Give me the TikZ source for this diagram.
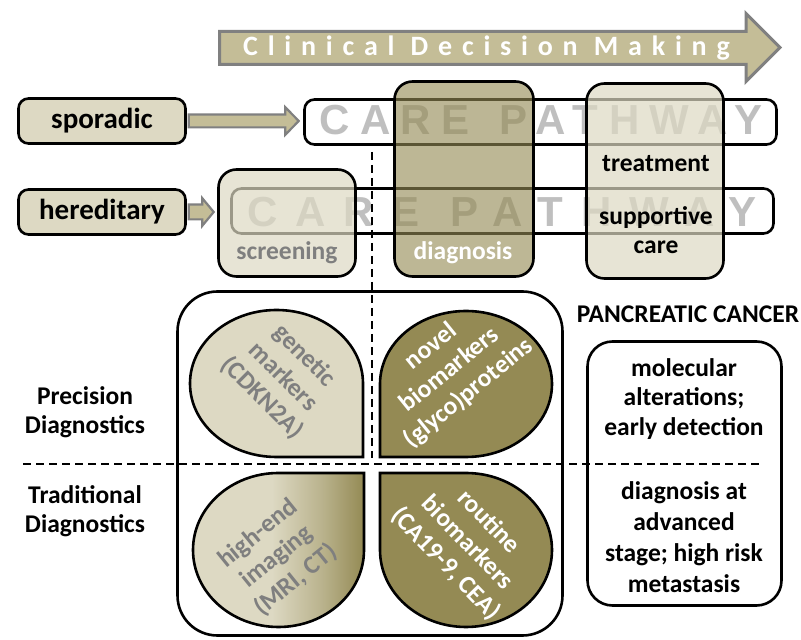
\documentclass[tikz,border=0pt]{standalone}
\usepackage{fontspec}
\setmainfont{Carlito}
\newfontfamily\careA[LetterSpace=25]{Liberation Sans}
\newfontfamily\careB[LetterSpace=42]{Liberation Sans}
\newfontfamily\clin[LetterSpace=35]{Carlito}
\usetikzlibrary{calc}
\definecolor{tanlight}{HTML}{DDD9C3}
\definecolor{tandark}{HTML}{948A54}
\definecolor{arrowfill}{HTML}{C4BD97}
\definecolor{arrowedge}{HTML}{808080}
\definecolor{graytext}{HTML}{7F7F7F}
\definecolor{caregray}{HTML}{BFBFBF}
\colorlet{tanmid}{tanlight!50!tandark}
\pgfdeclarehorizontalshading{leafgrad}{100bp}{color(0bp)=(tanlight); color(48bp)=(tanlight); color(63bp)=(tanmid); color(75bp)=(tandark); color(100bp)=(tandark)}
\tikzset{
  outline/.style={draw=black, line width=2.6pt},
  lbl/.style={font=\bfseries\fontsize{29}{32}\selectfont},
  txt/.style={font=\bfseries\fontsize{25.5}{29.5}\selectfont, align=center, inner sep=0pt},
  leaftxt/.style={font=\bfseries\fontsize{25.5}{30}\selectfont, align=center, inner sep=0pt},
  blockarrow/.style={fill=arrowfill, draw=arrowedge, line width=2.2pt, line join=miter},
  divider/.style={line width=1.8pt, dash pattern=on 8pt off 5pt},
  stagebox/.style={outline, rounded corners=18pt, minimum width=137pt, inner sep=0pt},
}
\begin{document}
\begin{tikzpicture}[x=1pt,y=1pt]
\useasboundingbox (0,0) rectangle (801,640);

% top arrow
\draw[blockarrow, line width=3pt] (219.5,575.5) -- (746,575.5) -- (746,558.5) -- (780,592.5) -- (746,626.5) -- (746,608.5) -- (219.5,608.5) -- cycle;
\node[anchor=base west, inner sep=0pt, text=white, font=\clin\bfseries\fontsize{28}{28}\selectfont] (cdm) at (243,584) {Clinical Decision Making};

% left entry boxes
\node[outline, fill=tanlight, rounded corners=10pt, minimum width=167pt, minimum height=45pt, lbl] (spor) at (102,519) {sporadic};
\node[outline, fill=tanlight, rounded corners=10pt, minimum width=167pt, minimum height=45pt, lbl] (her) at (102,428) {hereditary};

% care pathway bars
\node[outline, fill=white, rounded corners=10pt, minimum width=472pt, minimum height=45pt] (care1) at (540.5,518) {};
\node[outline, fill=white, rounded corners=10pt, minimum width=542pt, minimum height=45pt] (care2) at (502.5,429) {};
\node[anchor=base west, inner sep=0pt, text=caregray, font=\careA\bfseries\fontsize{42}{42}\selectfont] (careT1) at (319,505) {CARE \hspace{8pt}PATHWAY};
\node[anchor=base west, inner sep=0pt, text=caregray, font=\careB\bfseries\fontsize{42}{42}\selectfont] (careT2) at (247,413) {CARE \hspace{2pt}PATHWAY};

% stage boxes (semi-transparent)
\node[stagebox, fill=tanlight, fill opacity=0.7, minimum height=107pt] (scr) at (287,417) {};
\node[stagebox, fill=tandark, fill opacity=0.62, minimum width=139pt, minimum height=195pt] (diag) at (464,461) {};
\node[stagebox, fill=tanlight, fill opacity=0.7, minimum height=195pt] (treat) at (655,459) {};
\node[txt, text=graytext] (scrT) at (287,387) {screening};
\node[txt, text=white] (diagT) at (463,387) {diagnosis};
\node[txt] (treatT1) at (656,476) {treatment};
\node[txt] (treatT2) at (656,410) {supportive\\care};

% small block arrows
\coordinate (a1s) at (spor.east);
\coordinate (a1e) at (care1.west |- spor.east);
\draw[blockarrow] ($(a1s)+(2,6.4)$) -- ($(a1e)+(-18,6.4)$) -- ($(a1e)+(-18,13.9)$) -- ($(a1e)+(-4.5,0)$) -- ($(a1e)+(-18,-13.9)$) -- ($(a1e)+(-18,-6.4)$) -- ($(a1s)+(2,-6.4)$) -- cycle;
\coordinate (a2s) at (her.east);
\coordinate (a2e) at (scr.west |- her.east);
\draw[blockarrow] ($(a2s)+(2,7.4)$) -- ($(a2e)+(-15,7.4)$) -- ($(a2e)+(-15,13.9)$) -- ($(a2e)+(-3.5,0)$) -- ($(a2e)+(-15,-13.9)$) -- ($(a2e)+(-15,-7.4)$) -- ($(a2s)+(2,-7.4)$) -- cycle;

% big container and leaves
\node[outline, rounded corners=40pt, minimum width=385pt, minimum height=344pt] (big) at (370,176.5) {};
\draw[outline, fill=tanlight] (363,183) -- (363,256.5) arc[start angle=0, end angle=270, x radius=86.5pt, y radius=73.5pt] -- cycle;
\draw[outline, fill=tandark] (380,183) -- (466,183) arc[start angle=-90, end angle=180, x radius=86pt, y radius=73pt] -- cycle;
\draw[outline, shading=leafgrad] (364,167) -- (278.5,167) arc[start angle=90, end angle=360, x radius=85.5pt, y radius=77pt] -- cycle;
\draw[outline, fill=tandark] (380,167) -- (380,90) arc[start angle=180, end angle=450, x radius=86pt, y radius=77pt] -- cycle;

\node[leaftxt, text=graytext, rotate=-45] (leafTL) at (283,263) {genetic\\markers\\(CDKN2A)};
\node[leaftxt, text=white, rotate=39] (leafTR) at (450,270) {novel\\biomarkers\\(glyco)proteins};
\node[leaftxt, text=graytext, rotate=39] (leafBL) at (277,83) {high-end\\imaging\\(MRI, CT)};
\node[leaftxt, text=white, rotate=-46] (leafBR) at (467,97) {routine\\biomarkers\\(CA19-9, CEA)};

% dividers
\coordinate (vtop) at (372,488);
\coordinate (vbot) at (372,182);
\coordinate (hl) at (23,176);
\coordinate (hr) at (763,176);
\draw[divider] (vtop) -- (vbot);
\draw[divider] (hl) -- (hr);

% side labels
\node[txt] (prec) at (85,228) {Precision\\Diagnostics};
\node[txt] (trad) at (85,129) {Traditional\\Diagnostics};
\node[txt] (pc) at (688,326) {PANCREATIC CANCER};
\node[outline, rounded corners=25pt, minimum width=194pt, minimum height=264pt] (rbox) at (684.5,166.5) {};
\node[txt] (rt1) at (684,241) {molecular\\alterations;\\early detection};
\node[txt, font=\bfseries\fontsize{25.5}{31}\selectfont] (rt2) at (684,103) {diagnosis at\\advanced\\stage; high risk\\metastasis};
\end{tikzpicture}
\end{document}
